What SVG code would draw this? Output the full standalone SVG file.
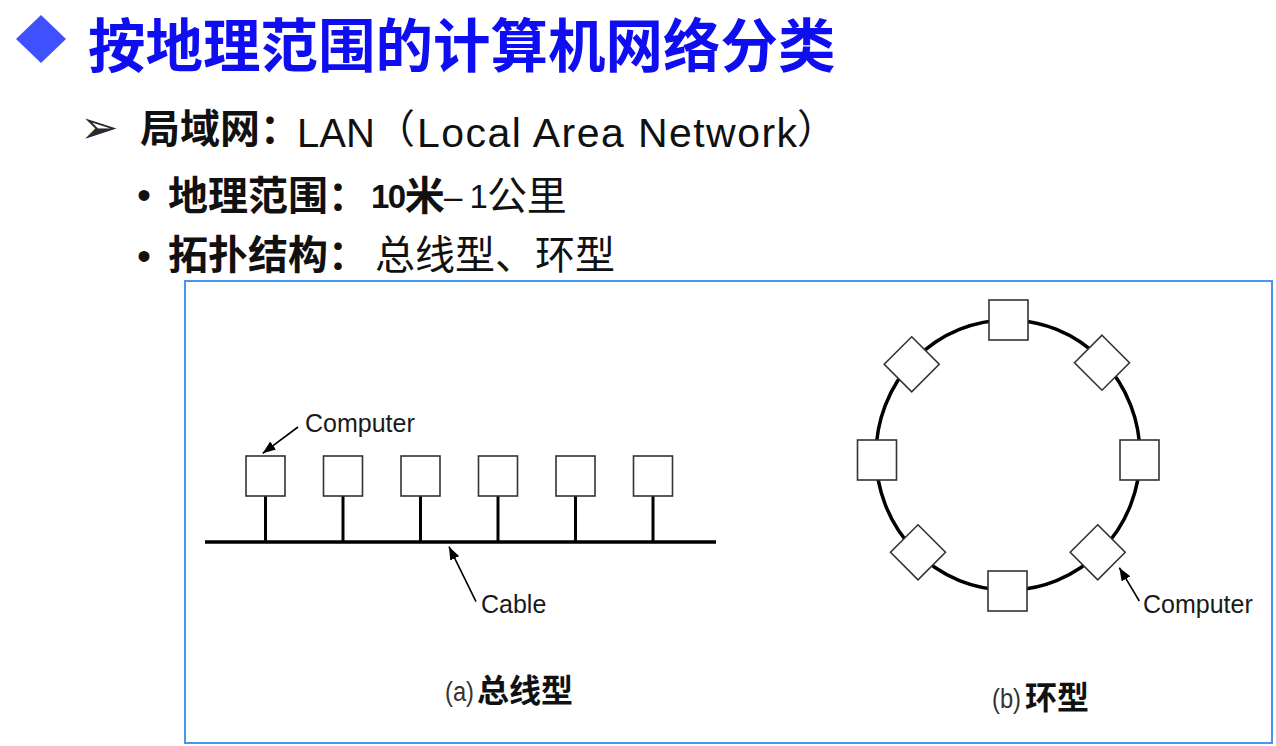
<svg xmlns="http://www.w3.org/2000/svg" width="1276" height="746" viewBox="0 0 1276 746">
<style>
.cjkb{font-family:"Noto Sans CJK SC",sans-serif;font-weight:700;fill:#111}
.cjk{font-family:"Noto Sans CJK SC",sans-serif;font-weight:400;fill:#111}
.lat{font-family:"Liberation Sans","Noto Sans CJK SC",sans-serif;font-weight:400;fill:#111}
.latb{font-family:"Liberation Sans","Noto Sans CJK SC",sans-serif;font-weight:700;fill:#111}
.box{fill:#fff;stroke:#333;stroke-width:1.6}
.wire{stroke:#000;stroke-width:3;fill:none}
.ring{stroke:#000;stroke-width:3.5;fill:none}
.ptr{stroke:#000;stroke-width:1.6;fill:none;marker-end:url(#ah)}
.lbl{font-family:"Liberation Sans",sans-serif;font-size:25px;fill:#1a1a1a}
</style>
<defs>
<marker id="ah" markerUnits="userSpaceOnUse" markerWidth="14" markerHeight="10" refX="13" refY="5" orient="auto">
<path d="M0,0 L13,5 L0,10 z" fill="#000"/>
</marker>
</defs>
<rect width="1276" height="746" fill="#fff"/>

<g id="title">
<polygon points="41,15 66,39 41,63 16,39" fill="#3f51ff"/>
<text x="88" y="67" class="cjkb" font-size="57.5" style="fill:#0e0ef0">按地理范围的计算机网络分类</text>
</g>

<g id="bullets">
<text x="80" y="143" font-family="DejaVu Sans, sans-serif" font-size="46" fill="#2a2a2a">➢</text>
<text x="140" y="143" class="cjkb" font-size="40">局域网：</text>
<text x="297" y="147" class="lat" font-size="40">LAN</text>
<text x="375" y="143" class="cjk" font-size="40">（</text>
<text x="417" y="147" class="lat" font-size="41" textLength="380">Local Area Network</text>
<text x="797" y="143" class="cjk" font-size="40">）</text>

<text x="137" y="209" class="lat" font-size="40">•</text>
<text x="168" y="210" class="cjkb" font-size="40">地理范围：</text>
<text x="371" y="208" class="latb"><tspan font-size="33" letter-spacing="-1.5">10</tspan><tspan font-size="40" letter-spacing="0" dy="2">米</tspan></text>
<text x="444" y="208" class="lat"><tspan font-size="33" letter-spacing="-1">– 1</tspan><tspan font-size="40" letter-spacing="0" dy="2">公里</tspan></text>

<text x="137" y="270" class="lat" font-size="40">•</text>
<text x="168" y="269" class="cjkb" font-size="40">拓扑结构：</text>
<text x="375" y="269" class="cjk" font-size="40">总线型、环型</text>
</g>

<rect id="frame" x="185" y="281" width="1087" height="462" fill="none" stroke="#4596f5" stroke-width="2"/>

<g id="bus-connectors">
<line class="wire" x1="205" y1="542" x2="716" y2="542" style="stroke-width:3.5"/>
<line class="wire" x1="265.5" y1="496" x2="265.5" y2="541"/>
<line class="wire" x1="343" y1="496" x2="343" y2="541"/>
<line class="wire" x1="420.5" y1="496" x2="420.5" y2="541"/>
<line class="wire" x1="498" y1="496" x2="498" y2="541"/>
<line class="wire" x1="575.5" y1="496" x2="575.5" y2="541"/>
<line class="wire" x1="653" y1="496" x2="653" y2="541"/>
<line class="ptr" x1="298" y1="427" x2="262.7" y2="453.3"/>
<line class="ptr" x1="476" y1="601.7" x2="449" y2="546.7"/>
</g>

<g id="bus-pc1"><rect class="box" x="246" y="456" width="39" height="40"/></g>
<g id="bus-pc2"><rect class="box" x="323.5" y="456" width="39" height="40"/></g>
<g id="bus-pc3"><rect class="box" x="401" y="456" width="39" height="40"/></g>
<g id="bus-pc4"><rect class="box" x="478.5" y="456" width="39" height="40"/></g>
<g id="bus-pc5"><rect class="box" x="556" y="456" width="39" height="40"/></g>
<g id="bus-pc6"><rect class="box" x="633.5" y="456" width="39" height="40"/></g>

<g id="bus-labels">
<text class="lbl" x="305" y="432">Computer</text>
<text class="lbl" x="481" y="613">Cable</text>
<text x="445" y="701" class="lat" font-size="27" textLength="29" lengthAdjust="spacingAndGlyphs" style="fill:#333">(a)</text>
<text x="477" y="702" class="cjkb" font-size="32">总线型</text>
</g>

<g id="ring-connectors">
<ellipse class="ring" cx="1008" cy="455" rx="132" ry="135"/>
<line class="ptr" x1="1139.3" y1="601" x2="1119.3" y2="567.7"/>
</g>

<g id="ring-pc-top"><rect class="box" x="989" y="300" width="39" height="40"/></g>
<g id="ring-pc-ur"><polygon class="box" points="1102,335.2 1129.5,362.7 1102,390.2 1074.5,362.7"/></g>
<g id="ring-pc-right"><rect class="box" x="1120" y="440" width="39" height="40"/></g>
<g id="ring-pc-lr"><polygon class="box" points="1097.7,524.8 1125.2,552.3 1097.7,579.8 1070.2,552.3"/></g>
<g id="ring-pc-bottom"><rect class="box" x="988" y="571" width="39" height="40"/></g>
<g id="ring-pc-ll"><polygon class="box" points="918,524.8 945.5,552.3 918,579.8 890.5,552.3"/></g>
<g id="ring-pc-left"><rect class="box" x="857.5" y="440" width="39" height="40"/></g>
<g id="ring-pc-ul"><polygon class="box" points="911.7,336.8 939.2,364.3 911.7,391.8 884.2,364.3"/></g>

<g id="ring-labels">
<text class="lbl" x="1143" y="613">Computer</text>
<text x="992" y="708" class="lat" font-size="27" textLength="29" lengthAdjust="spacingAndGlyphs" style="fill:#333">(b)</text>
<text x="1025" y="709" class="cjkb" font-size="32">环型</text>
</g>
</svg>
